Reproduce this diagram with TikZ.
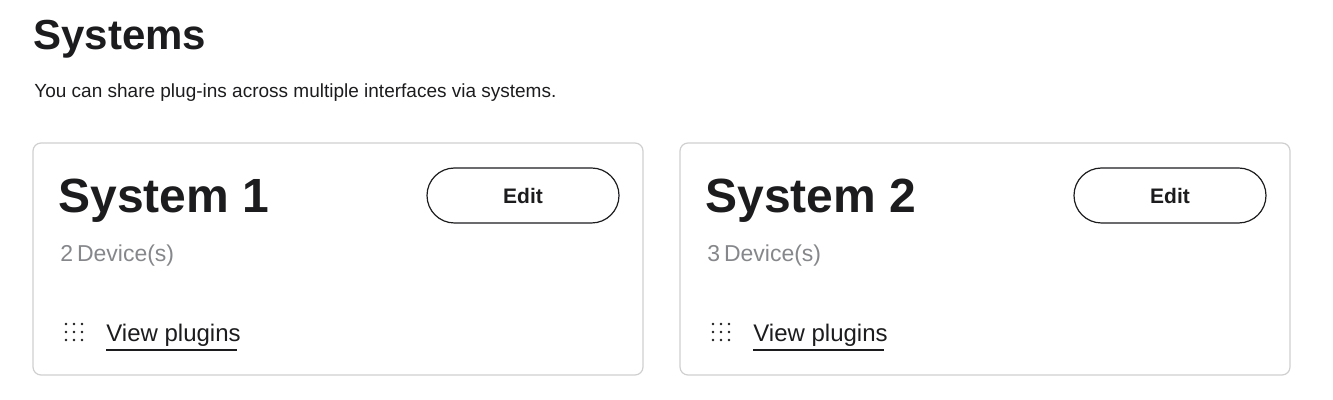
\documentclass[tikz,border=0pt]{standalone}
\usepackage{fontspec}
\setmainfont{Liberation Sans}
\usetikzlibrary{positioning}
\definecolor{ink}{HTML}{1C1C1E}
\definecolor{greytext}{HTML}{85878A}
\definecolor{cardline}{HTML}{CFCFCF}
\tikzset{
  card/.style={draw=cardline,rounded corners=4pt,line width=0.6pt},
  editbtn/.style={draw=ink,line width=0.6pt,rounded corners=13.75pt},
  dot/.style={circle,fill=ink,inner sep=0pt,minimum size=1.3pt},
}
\begin{document}
\begin{tikzpicture}[x=0.5pt,y=-0.5pt]
      \useasboundingbox (0,0) rectangle (1333,400);
      \node[anchor=base west,inner sep=0pt,font=\fontsize{21}{24}\selectfont\bfseries,text=ink] (title) at (33,50) {Systems};
      \node[anchor=base west,inner sep=0pt,font=\fontsize{9.5}{11}\selectfont,text=ink] (intro) at (34,98) {You can share plug-ins across multiple interfaces via systems.};

      % cards
      \foreach \i/\x in {1/0,2/647}{
        \draw[card] (33+\x,143) rectangle (643+\x,375);
        \node[anchor=base west,inner sep=0pt,font=\fontsize{24}{28}\selectfont\bfseries,text=ink] (sys\i) at (58+\x,213) {System \i};
        \draw[editbtn] (427+\x,168) rectangle (619+\x,223);
        \node[font=\fontsize{10.5}{12}\selectfont\bfseries,text=ink] (edit\i) at (523+\x,196) {Edit};
        \foreach \r in {0,1,2}{
          \foreach \c in {0,1,2}{
            \node[dot] at (66+\x+8*\c,324+8*\r) {};
          }
        }
        \node[anchor=base west,inner sep=0pt,font=\fontsize{12}{14}\selectfont,text=ink] (view\i) at (106+\x,342) {View plugins};
        \draw[ink,line width=0.6pt] (106+\x,350) -- (237+\x,350);
      }
      \node[anchor=base west,inner sep=0pt,font=\fontsize{11.5}{14}\selectfont,text=greytext] (dev1) at (60,262) {2\,Device(s)};
      \node[anchor=base west,inner sep=0pt,font=\fontsize{11.5}{14}\selectfont,text=greytext] (dev2) at (707,262) {3\,Device(s)};
\end{tikzpicture}
\end{document}
